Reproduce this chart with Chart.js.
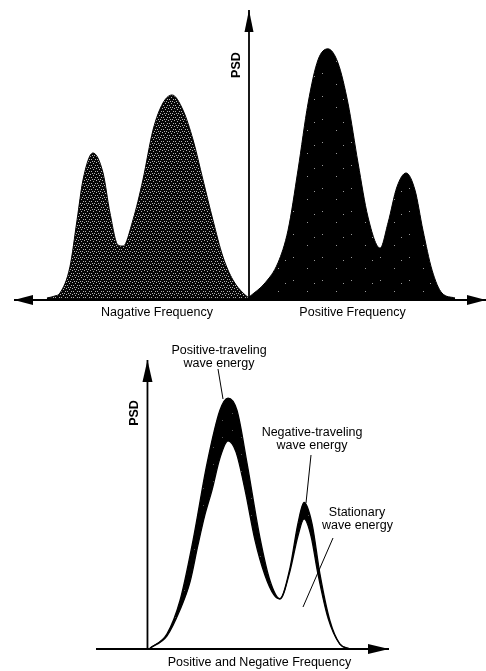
<!DOCTYPE html>
<html>
<head>
<meta charset="utf-8">
<script src="https://cdn.jsdelivr.net/npm/chart.js@4.4.1/dist/chart.umd.min.js"></script>
<style>
  body { margin: 0; background: #fff; }
  #wrap { position: relative; width: 486px; height: 671px; }
  canvas { position: absolute; left: 0; }
</style>
</head>
<body>
<div id="wrap">
  <canvas id="topChart" width="486" height="330" style="top:0"></canvas>
  <canvas id="bottomChart" width="486" height="331" style="top:340px"></canvas>
</div>
<script>
// top panel: two-sided spectrum (frequency units, PSD units)
const negFreq = [-10.19, -9.78, -9.53, -9.03, -8.67, -8.37, -7.87, -7.36, -7.01, -6.61, -6.35, -5.85, -5.35, -4.84, -4.34, -3.88, -3.33, -2.82, -2.32, -1.82, -1.31, -0.81, -0.30, 0];
const negPsd  = [0.07, 0.14, 0.24, 1.14, 2.76, 4.14, 5.07, 4.38, 3.00, 1.90, 1.86, 2.76, 4.14, 5.86, 6.79, 7.07, 6.55, 5.52, 4.14, 2.76, 1.48, 0.69, 0.24, 0.07];
const posFreq = [0, 0.81, 1.46, 1.97, 2.47, 2.98, 3.48, 3.98, 4.49, 4.99, 5.50, 6.00, 6.61, 7.01, 7.46, 7.92, 8.37, 8.77, 9.23, 9.73, 10.39];
const posPsd  = [0.10, 0.59, 1.28, 2.41, 4.48, 6.79, 8.28, 8.66, 8.17, 6.79, 4.72, 2.86, 1.79, 2.66, 3.90, 4.38, 3.79, 2.41, 1.03, 0.24, 0.07];

// bottom panel: folded spectrum, total and stationary part
const totalFreq      = [0.13, 0.98, 1.64, 2.30, 3.01, 3.66, 4.07, 4.52, 5.03, 5.68, 6.19, 6.69, 7.20, 7.60, 7.91, 8.31, 8.71, 9.22, 9.72, 10.23];
const totalPsd       = [0.03, 0.52, 1.67, 3.75, 6.42, 8.26, 8.68, 8.26, 6.42, 3.85, 2.36, 1.74, 2.81, 4.34, 5.07, 4.34, 2.60, 0.97, 0.17, 0];
const stationaryFreq = [0.13, 0.98, 1.64, 2.15, 2.55, 2.90, 3.26, 3.66, 4.07, 4.47, 4.93, 5.43, 5.93, 6.39, 6.69, 7.20, 7.60, 7.91, 8.26, 8.61, 9.12, 9.72, 10.23];
const stationaryPsd  = [0.03, 0.45, 1.35, 2.32, 3.60, 4.64, 5.50, 6.61, 7.20, 6.82, 5.50, 3.77, 2.56, 1.87, 1.73, 2.70, 3.91, 4.50, 3.91, 2.60, 1.07, 0.17, 0];

const FONT = '"Liberation Sans", Arial, Helvetica, sans-serif';

const pairs = (xs, ys) => xs.map((x, i) => ({ x: x, y: ys[i] }));

// stipple texture for the fills
function stipple(w, h, dots, base, dot) {
  const c = document.createElement('canvas');
  c.width = w; c.height = h;
  const g = c.getContext('2d');
  g.fillStyle = base;
  g.fillRect(0, 0, w, h);
  g.fillStyle = dot;
  dots.forEach(d => g.fillRect(d[0], d[1], 1, 1));
  return g.createPattern(c, 'repeat');
}

function arrow(ctx, x1, y1, x2, y2, heads, len, half) {
  ctx.beginPath();
  ctx.moveTo(x1, y1);
  ctx.lineTo(x2, y2);
  ctx.stroke();
  heads.forEach(h => {
    const tx = h ? x2 : x1, ty = h ? y2 : y1;
    const fx = h ? x1 : x2, fy = h ? y1 : y2;
    const a = Math.atan2(ty - fy, tx - fx);
    ctx.beginPath();
    ctx.moveTo(tx, ty);
    ctx.lineTo(tx - len * Math.cos(a) - half * Math.sin(a), ty - len * Math.sin(a) + half * Math.cos(a));
    ctx.lineTo(tx - len * Math.cos(a) + half * Math.sin(a), ty - len * Math.sin(a) - half * Math.cos(a));
    ctx.closePath();
    ctx.fill();
  });
}

function text(ctx, str, x, y, bold, rot) {
  ctx.save();
  ctx.translate(x, y);
  if (rot) ctx.rotate(rot);
  ctx.font = (bold ? 'bold ' : '') + '12.5px ' + FONT;
  ctx.textAlign = 'center';
  ctx.textBaseline = 'middle';
  ctx.fillText(str, 0, 0);
  ctx.restore();
}

function line(ctx, x1, y1, x2, y2) {
  ctx.beginPath();
  ctx.moveTo(x1, y1);
  ctx.lineTo(x2, y2);
  ctx.stroke();
}

const baseOptions = (xmin, xmax, pad) => ({
  responsive: false,
  animation: false,
  events: [],
  layout: { padding: pad },
  plugins: { legend: { display: false }, tooltip: { enabled: false } },
  elements: { point: { radius: 0 }, line: { cubicInterpolationMode: 'monotone' } },
  scales: {
    x: { type: 'linear', min: xmin, max: xmax, display: false },
    y: { type: 'linear', min: 0, max: 10, display: false }
  }
});

const topAxes = {
  id: 'topAxes',
  afterDatasetsDraw(chart) {
    const ctx = chart.ctx, x = chart.scales.x, y = chart.scales.y;
    const x0 = x.getPixelForValue(0), y0 = y.getPixelForValue(0);
    ctx.save();
    ctx.strokeStyle = '#000';
    ctx.fillStyle = '#000';
    ctx.lineWidth = 1.8;
    arrow(ctx, x.left + 1, y0, x.right + 1, y0, [0, 1], 19, 5);
    arrow(ctx, x0, y0, x0, y.top, [1], 22, 4.5);
    text(ctx, 'PSD', x0 - 12, y.getPixelForValue(8.1), true, -Math.PI / 2);
    text(ctx, 'Nagative Frequency', x.getPixelForValue(-4.64), y0 + 13);
    text(ctx, 'Positive Frequency', x.getPixelForValue(5.22), y0 + 13);
    ctx.restore();
  }
};

const bottomAxes = {
  id: 'bottomAxes',
  afterDatasetsDraw(chart) {
    const ctx = chart.ctx, x = chart.scales.x, y = chart.scales.y;
    const x0 = x.getPixelForValue(0), y0 = y.getPixelForValue(0);
    ctx.save();
    ctx.strokeStyle = '#000';
    ctx.fillStyle = '#000';
    ctx.lineWidth = 1.8;
    arrow(ctx, x.left, y0, x.right, y0, [1], 21, 5);
    arrow(ctx, x0, y0, x0, y.top, [1], 22, 5);
    text(ctx, 'PSD', x0 - 13, 73, true, -Math.PI / 2);
    text(ctx, 'Positive and Negative Frequency', 259.5, y0 + 14);
    ctx.lineWidth = 1;
    text(ctx, 'Positive-traveling', 219, 11);
    text(ctx, 'wave energy', 219, 24);
    line(ctx, 218, 29, 223, 59);
    text(ctx, 'Negative-traveling', 312, 93);
    text(ctx, 'wave energy', 312, 106);
    line(ctx, 311, 115, 306, 163);
    text(ctx, 'Stationary', 357, 173);
    text(ctx, 'wave energy', 357.5, 186);
    line(ctx, 333, 198, 303, 267);
    ctx.restore();
  }
};

const negFill = stipple(6, 6, [[0, 0], [3, 1], [5, 3], [1, 3], [4, 5], [2, 5]], '#060606', '#b4b4b4');
const posFill = stipple(29, 23, [[3, 4], [17, 15], [24, 7]], '#000', '#9a9a9a');
const bandFill = stipple(19, 17, [[4, 5], [13, 12]], '#000', '#555');

new Chart(document.getElementById('topChart').getContext('2d'), {
  type: 'line',
  data: {
    datasets: [
      { data: pairs(negFreq, negPsd), borderColor: '#000', borderWidth: 1, backgroundColor: negFill, fill: 'origin' },
      { data: pairs(posFreq, posPsd), borderColor: '#000', borderWidth: 1, backgroundColor: posFill, fill: 'origin' }
    ]
  },
  options: baseOptions(-11.9, 11.9, { left: 13, right: 1, top: 10, bottom: 30 }),
  plugins: [topAxes]
});

new Chart(document.getElementById('bottomChart').getContext('2d'), {
  type: 'line',
  data: {
    datasets: [
      { data: pairs(totalFreq, totalPsd), borderColor: '#000', borderWidth: 1.3, backgroundColor: bandFill, fill: '+1' },
      { data: pairs(stationaryFreq, stationaryPsd), borderColor: '#000', borderWidth: 1.3, fill: false }
    ]
  },
  options: baseOptions(-2.6, 12.2, { left: 96, right: 97, top: 20, bottom: 22 }),
  plugins: [bottomAxes]
});
</script>
</body>
</html>
